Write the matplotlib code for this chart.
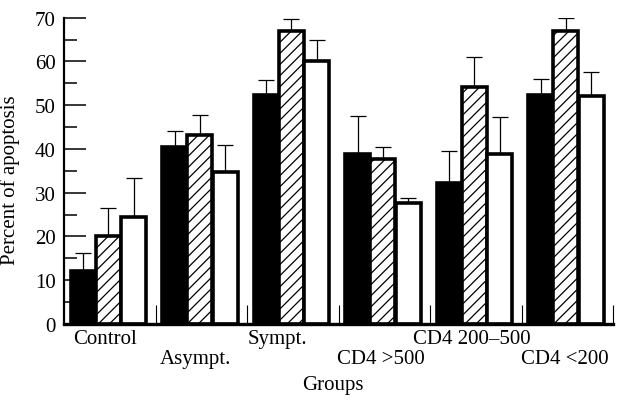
import matplotlib
matplotlib.use("Agg")
import matplotlib.pyplot as plt
import numpy as np

groups = ["Control", "Asympt.", "Sympt.", "CD4 >500", "CD4 200\u2013500", "CD4 <200"]
label_x = [0.443, 1.438, 2.334, 3.464, 4.459, 5.47]
label_row = [0, 1, 0, 1, 0, 1]

black_vals = [12.0, 40.4, 52.4, 38.9, 32.2, 52.4]
black_err = [4.3, 3.8, 3.4, 8.6, 7.3, 3.7]
hatch_vals = [20.2, 43.2, 66.9, 37.7, 54.1, 66.9]
hatch_err = [6.2, 4.6, 2.9, 2.7, 6.9, 3.1]
white_vals = [24.4, 34.7, 60.0, 27.7, 38.9, 52.1]
white_err = [8.9, 6.3, 5.0, 1.2, 8.3, 5.4]

plt.rcParams['font.family'] = ['Liberation Serif', 'DejaVu Serif']
plt.rcParams['hatch.linewidth'] = 0.9

fig = plt.figure(figsize=(6.19, 4.06), dpi=100)
ax = fig.add_axes([64/619, 1-325/406, 549/619, 306.3/406])

x = np.arange(len(groups))
w = 0.273
offs = [0.213, 0.486, 0.760]
series = [
    (black_vals, black_err, 'black', None),
    (hatch_vals, hatch_err, 'white', '///'),
    (white_vals, white_err, 'white', None),
]
for (vals, errs, fc, h), o in zip(series, offs):
    ax.bar(x + o, vals, width=w, color=fc, edgecolor='black', linewidth=2.6,
           hatch=h, zorder=2)
    ax.errorbar(x + o, vals, yerr=[np.zeros(len(errs)), errs], fmt='none',
                ecolor='black', elinewidth=0.9, capsize=6, capthick=0.9, zorder=1)

ax.set_xlim(0, 6)
ax.set_ylim(0, 70)
for s in ['top', 'right']:
    ax.spines[s].set_visible(False)
ax.spines['left'].set_linewidth(1.6)
ax.spines['bottom'].set_linewidth(2.4)

ax.set_yticks(np.arange(0, 71, 10))
ax.set_yticks(np.arange(5, 70, 10), minor=True)
ax.tick_params(axis='y', which='major', direction='in', length=16, width=1.1,
               labelsize=15, pad=6)
ax.tick_params(axis='y', which='minor', direction='in', length=9.5, width=1.1)

ax.set_xticks([])
ax.set_xticks(np.arange(1, 7), minor=True)
ax.tick_params(axis='x', which='minor', direction='in', length=14, width=0.8)

for lx, name, row in zip(label_x, groups, label_row):
    ax.annotate(name, xy=(lx, 0), xycoords=('data', 'axes fraction'),
                xytext=(0, -3.6 - row * 14.5), textcoords='offset points',
                ha='center', va='top', fontsize=15)

ax.set_xlabel("Groups", fontsize=15)
ax.xaxis.set_label_coords(0.49, -0.165)
ax.set_ylabel("Percent of apoptosis", fontsize=15)
ax.yaxis.set_label_coords(-0.080, 0.474)

fig.savefig("out.png", dpi=100)
